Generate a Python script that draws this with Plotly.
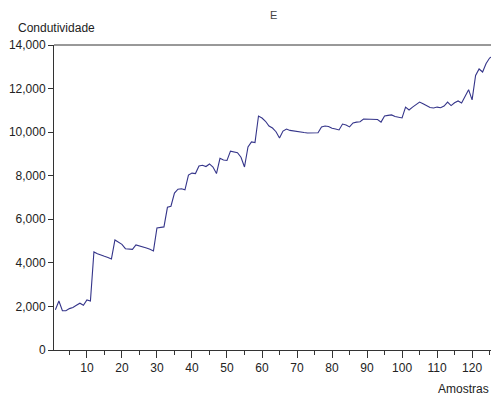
import plotly.graph_objects as go

# Sample index and conductivity readings
amostras = list(range(1, 127))
condutividade = [
    1850, 2250, 1800, 1800, 1900, 1950, 2050, 2150, 2050, 2300,
    2250, 4500, 4420, 4350, 4300, 4250, 4180, 5050, 4950, 4850,
    4650, 4650, 4620, 4820, 4780, 4750, 4680, 4620, 4550, 5600,
    5620, 5650, 6550, 6600, 7200, 7380, 7400, 7350, 8030, 8120,
    8100, 8450, 8480, 8420, 8540, 8400, 8100, 8800, 8720, 8700,
    9130, 9100, 9060, 8850, 8400, 9320, 9550, 9520, 10740, 10650,
    10500, 10280, 10190, 10020, 9730, 10050, 10140, 10080, 10050, 10010,
    10000, 9980, 9960, 9960, 9960, 9970, 10240, 10280, 10260, 10180,
    10140, 10100, 10370, 10330, 10240, 10420, 10460, 10480, 10600, 10600,
    10600, 10600, 10580, 10460, 10740, 10770, 10790, 10720, 10680, 10650,
    11150, 11020, 11150, 11280, 11380, 11300, 11220, 11130, 11110, 11150,
    11120, 11200, 11380, 11220, 11350, 11430, 11340, 11650, 11950, 11480,
    12600, 12900, 12760, 13150, 13400, 13500,
]

y_ticks = [0, 2000, 4000, 6000, 8000, 10000, 12000, 14000]
x_ticks = [10, 20, 30, 40, 50, 60, 70, 80, 90, 100, 110, 120]

font_family = "Arial, Liberation Sans, sans-serif"
axis_color = "#333333"

fig = go.Figure(
    go.Scatter(
        x=amostras,
        y=condutividade,
        mode="lines",
        line=dict(color="#35358a", width=1.1),
        showlegend=False,
    )
)

fig.update_layout(
    width=491,
    height=397,
    margin=dict(l=54, r=0, t=45, b=47),
    paper_bgcolor="white",
    plot_bgcolor="white",
    font=dict(family=font_family, size=12, color="#222222"),
    xaxis=dict(
        range=[0.6, 125.4],
        tickvals=x_ticks,
        ticks="outside",
        ticklen=7,
        tickcolor=axis_color,
        showline=True,
        linecolor=axis_color,
        linewidth=1,
        showgrid=False,
        zeroline=False,
        minor=dict(dtick=5, tick0=0, ticks="outside", ticklen=4, tickcolor=axis_color),
        tickfont=dict(size=12),
    ),
    yaxis=dict(
        range=[0, 14000],
        tickvals=y_ticks,
        tickformat=",d",
        ticks="outside",
        ticklen=5,
        tickcolor=axis_color,
        showline=True,
        linecolor=axis_color,
        linewidth=1,
        showgrid=False,
        zeroline=False,
        tickfont=dict(size=12),
    ),
    shapes=[
        dict(type="line", xref="paper", yref="paper", x0=0, x1=1, y0=1, y1=1,
             line=dict(color=axis_color, width=1)),
    ],
    annotations=[
        dict(text="Condutividade", xref="paper", yref="paper", x=-0.088, y=1.0,
             xanchor="left", yanchor="bottom", yshift=8, showarrow=False,
             font=dict(size=12, color="#222222")),
        dict(text="Amostras", xref="paper", yref="paper", x=1.0, y=0,
             xanchor="right", yanchor="top", yshift=-30, showarrow=False,
             font=dict(size=12, color="#222222")),
        dict(text="E", xref="paper", yref="paper", x=0.502, y=1.0,
             xanchor="center", yanchor="bottom", yshift=22, showarrow=False,
             font=dict(size=11, color="#444444")),
    ],
)

fig.write_html("out.html")
